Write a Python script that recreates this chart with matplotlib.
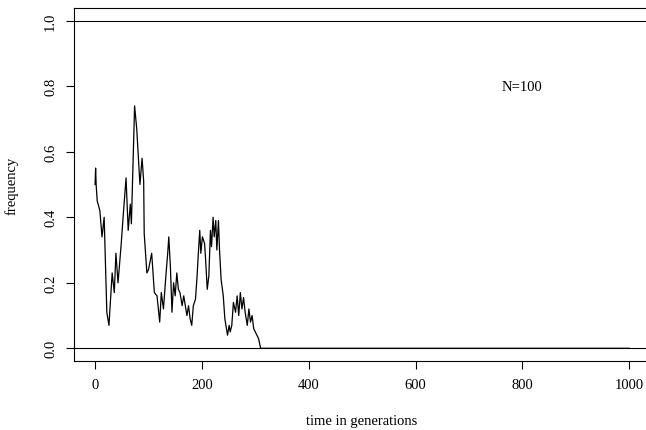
import matplotlib
matplotlib.use("Agg")
import matplotlib.pyplot as plt

plt.rcParams["font.family"] = ["Liberation Serif", "DejaVu Serif"]
plt.rcParams["font.size"] = 10.5

# allele frequency (generation, frequency)
generations = [0, 1, 2, 4, 9, 13, 17, 22, 26, 32, 36, 39, 43, 49, 52, 58, 62, 66, 68,
               74, 78, 84, 88, 91, 92, 97, 100, 106, 111, 116, 121, 124, 128, 133,
               136, 138, 141, 144, 147, 150, 153, 156, 159, 163, 166, 169, 172, 175,
               178, 181, 184, 188, 191, 193, 196, 198, 201, 205, 207, 210, 213, 216,
               218, 221, 223, 226, 228, 231, 233, 236, 240, 243, 246, 248, 251, 253,
               256, 259, 263, 266, 269, 272, 275, 278, 281, 285, 288, 291, 294, 297,
               300, 303, 306, 310, 1000]
frequency = [0.50, 0.55, 0.50, 0.45, 0.42, 0.34, 0.40, 0.11, 0.07, 0.23, 0.17, 0.29,
             0.20, 0.32, 0.39, 0.52, 0.36, 0.44, 0.38, 0.74, 0.67, 0.50, 0.58, 0.51,
             0.35, 0.23, 0.24, 0.29, 0.17, 0.16, 0.08, 0.17, 0.12, 0.23, 0.29, 0.34,
             0.25, 0.11, 0.20, 0.16, 0.23, 0.18, 0.17, 0.13, 0.16, 0.13, 0.10, 0.13,
             0.09, 0.07, 0.13, 0.15, 0.22, 0.28, 0.36, 0.29, 0.34, 0.32, 0.27, 0.18,
             0.22, 0.36, 0.31, 0.40, 0.34, 0.39, 0.30, 0.39, 0.30, 0.21, 0.16, 0.09,
             0.06, 0.04, 0.07, 0.05, 0.07, 0.14, 0.11, 0.16, 0.10, 0.17, 0.12, 0.155,
             0.11, 0.07, 0.12, 0.08, 0.10, 0.06, 0.05, 0.04, 0.03, 0.0, 0.0]

x_ticks = [0, 200, 400, 600, 800, 1000]
y_ticks = [0.0, 0.2, 0.4, 0.6, 0.8, 1.0]
y_labels = ["0.0", "0.2", "0.4", "0.6", "0.8", "1.0"]

fig = plt.figure(figsize=(6.46, 4.31), dpi=100)
ax = fig.add_axes([0.1141, 0.1592, 0.8929, 0.8209])

ax.plot(generations, frequency, color="black", linewidth=0.9)
ax.axhline(0, color="black", linewidth=0.8)
ax.axhline(1, color="black", linewidth=0.8)
ax.text(800, 0.8, "N=100", ha="center", va="center")

ax.set_xlim(-40, 1040)
ax.set_ylim(-0.04, 1.04)
ax.set_xticks(x_ticks)
ax.set_yticks(y_ticks)
ax.set_yticklabels(y_labels, rotation=90, va="center")
ax.tick_params(direction="out", length=6, width=0.8, pad=6)
for s in ax.spines.values():
    s.set_linewidth(0.8)

ax.set_xlabel("time in generations")
ax.set_ylabel("frequency")
ax.xaxis.set_label_coords(0.5, -0.148)
ax.yaxis.set_label_coords(-0.096, 0.5)

fig.savefig("out.png", dpi=100)
